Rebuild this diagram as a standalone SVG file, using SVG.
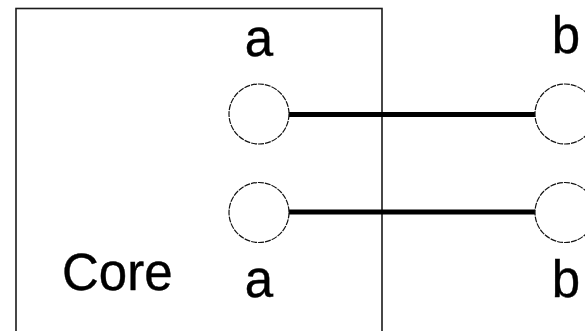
<svg xmlns="http://www.w3.org/2000/svg" width="585" height="331" viewBox="0 0 585 331">
  <style>
    .lbl { font-family: "Liberation Sans", Arial, sans-serif; font-size: 51px; fill: #000; stroke: #000; stroke-width: 0.4; }
    .port { fill: #fff; stroke: #111; stroke-width: 1.2; stroke-dasharray: 6 1; }
    .wire { stroke: #000; stroke-width: 5; fill: none; }
    .box { fill: none; stroke: #1a1a1a; stroke-width: 1.6; }
  </style>
  <rect width="585" height="331" fill="#fff"/>

  <g id="core">
    <rect class="box" x="16" y="8.5" width="366" height="340"/>
    <text class="lbl" x="62" y="290">Core</text>
  </g>

  <g id="connectors">
    <line class="wire" x1="289" y1="114.5" x2="535" y2="114.5"/>
    <line class="wire" x1="289" y1="212" x2="535" y2="212"/>
  </g>

  <g id="port-a-top">
    <circle class="port" cx="259" cy="114" r="30"/>
    <text class="lbl" x="259" y="56" text-anchor="middle">a</text>
  </g>
  <g id="port-a-bottom">
    <circle class="port" cx="259" cy="212.5" r="30"/>
    <text class="lbl" x="259" y="297" text-anchor="middle">a</text>
  </g>
  <g id="port-b-top">
    <circle class="port" cx="565" cy="114" r="30"/>
    <text class="lbl" x="566" y="53" text-anchor="middle">b</text>
  </g>
  <g id="port-b-bottom">
    <circle class="port" cx="565" cy="212.5" r="30"/>
    <text class="lbl" x="566" y="297" text-anchor="middle">b</text>
  </g>
</svg>
